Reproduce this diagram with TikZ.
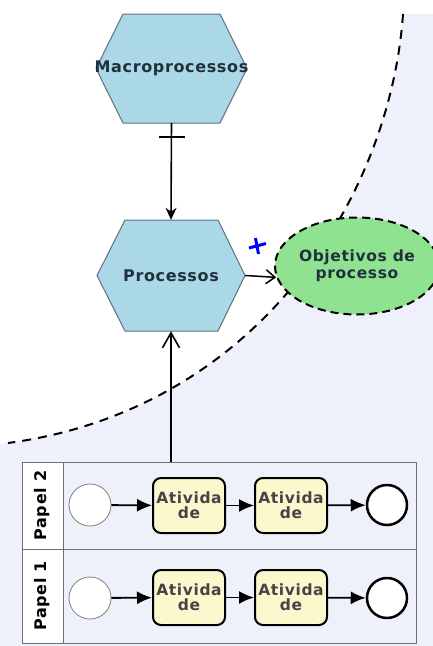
\documentclass[tikz,border=0pt]{standalone}
\usepackage{fontspec}
\setmainfont{DejaVu Sans}
\usetikzlibrary{arrows.meta,shapes.geometric,calc}
\definecolor{lav}{HTML}{EEF0FC}
\definecolor{lanebg}{HTML}{EEF0FA}
\definecolor{hexblue}{HTML}{ABD8E6}
\definecolor{hexedge}{HTML}{5F7080}
\definecolor{goalgreen}{HTML}{8FE28F}
\definecolor{actfill}{HTML}{FCF8CE}
\definecolor{pooledge}{HTML}{6E6E6E}
\definecolor{hextext}{HTML}{22303E}
\definecolor{acttext}{HTML}{4A4048}
\newfontfamily\labelfont[LetterSpace=4]{DejaVu Sans Bold}
\tikzset{
  hexshape/.style={fill=hexblue, draw=hexedge, line width=1pt, line join=round},
  hexlabel/.style={font=\labelfont\fontsize{16}{18}\selectfont, text=hextext, inner sep=0pt},
  goal/.style={ellipse, fill=goalgreen, draw=black, line width=2pt, dash pattern=on 8pt off 5pt,
    minimum width=150pt, minimum height=97pt, inner sep=0pt, align=center,
    font=\labelfont\fontsize{15.5}{17}\selectfont, text=hextext},
  regioncurve/.style={draw=black, line width=2pt, dash pattern=on 9pt off 7pt},
  poolbox/.style={draw=pooledge, line width=1pt, inner sep=0pt},
  lanelabel/.style={font=\labelfont\fontsize{16}{18}\selectfont, text=black, rotate=90},
  startev/.style={circle, draw=gray, line width=0.8pt, fill=white, minimum size=42pt, inner sep=0pt},
  endev/.style={circle, draw=black, line width=2.5pt, fill=white, minimum size=40pt, inner sep=0pt},
  activity/.style={rectangle, rounded corners=8pt, draw=black, line width=2pt, fill=actfill,
    minimum width=72pt, minimum height=55pt, inner sep=0pt, align=center,
    font=\labelfont\fontsize{15.5}{15}\selectfont, text=acttext},
  flow/.style={line width=1.8pt, -{Latex[length=15pt,width=13pt]}},
  assoc/.style={line width=1.5pt, -{Straight Barb[length=9pt,width=14pt]}},
  link/.style={line width=1.6pt},
}
\begin{document}
\begin{tikzpicture}[x=1pt,y=-1pt]
\useasboundingbox (0,0) rectangle (433,646);
\fill[white] (0,0) rectangle (433,646);

% shaded region behind the dashed boundary
\fill[lav] (403,14) .. controls (390,200) and (255,410) .. (8,443)
  -- (0,444) -- (0,646) -- (433,646) -- (433,14) -- cycle;
\draw[regioncurve] (403,14) .. controls (390,200) and (255,410) .. (8,443);

% hexagons
\draw[hexshape] (96,68.5) -- (123,14) -- (220,14) -- (247,68.5) -- (220,123) -- (123,123) -- cycle;
\node[hexlabel, minimum width=151pt, minimum height=109pt] (macro) at (171.5,68.5) {Macroprocessos};
\draw[hexshape] (97,275.5) -- (125,220) -- (218,220) -- (245,275.5) -- (218,331) -- (125,331) -- cycle;
\node[hexlabel, minimum width=148pt, minimum height=111pt] (proc) at (171,275.5) {Processos};

% process goal
\node[goal] (goal) at (357,266) {Objetivos de\\processo};

% pool with two lanes
\node[poolbox, fill=lanebg, minimum width=394pt, minimum height=181pt] (pool) at (219,552.5) {};
\node[poolbox, fill=white, minimum width=41pt, minimum height=87pt] (head2) at (42.5,505.5) {};
\node[poolbox, fill=white, minimum width=41pt, minimum height=94pt] (head1) at (42.5,596) {};
\draw[pooledge, line width=1pt] (head2.south west) -- (head2.south west -| pool.east);
\node[lanelabel] (lab2) at (head2) {Papel 2};
\node[lanelabel] (lab1) at (head1) {Papel 1};

% lane 2
\node[startev] (s2) at (90,505) {};
\node[activity] (a2a) at (189,505.5) {Ativida\\de};
\node[activity] (a2b) at (291,505.5) {Ativida\\de};
\node[endev] (e2) at (387,505) {};
\draw[flow] (s2) -- (a2a);
\draw[flow] (a2a) -- (a2b);
\draw[flow] (a2b) -- (e2);

% lane 1
\node[startev] (s1) at (90,598) {};
\node[activity] (a1a) at (189,597.5) {Ativida\\de};
\node[activity] (a1b) at (291,597.5) {Ativida\\de};
\node[endev] (e1) at (387,598) {};
\draw[flow] (s1) -- (a1a);
\draw[flow] (a1a) -- (a1b);
\draw[flow] (a1b) -- (e1);

% connectors between the levels
\draw[link, -{Stealth[length=12pt,width=11pt]}] (macro.south) -- (proc.north);
\draw[link] ($(macro.south)+(-13,14)$) -- ++(26,0);
\draw[assoc] (proc.east) -- (goal.188);
\draw[link, -{Straight Barb[length=15pt,width=17pt]}] (proc.south |- pool.north) -- (proc.south);

% blue plus marker
\draw[blue, line width=3pt] (249,248) -- (266,243.5);
\draw[blue, line width=3pt] (255.5,238) -- (258.5,254);
\end{tikzpicture}
\end{document}
